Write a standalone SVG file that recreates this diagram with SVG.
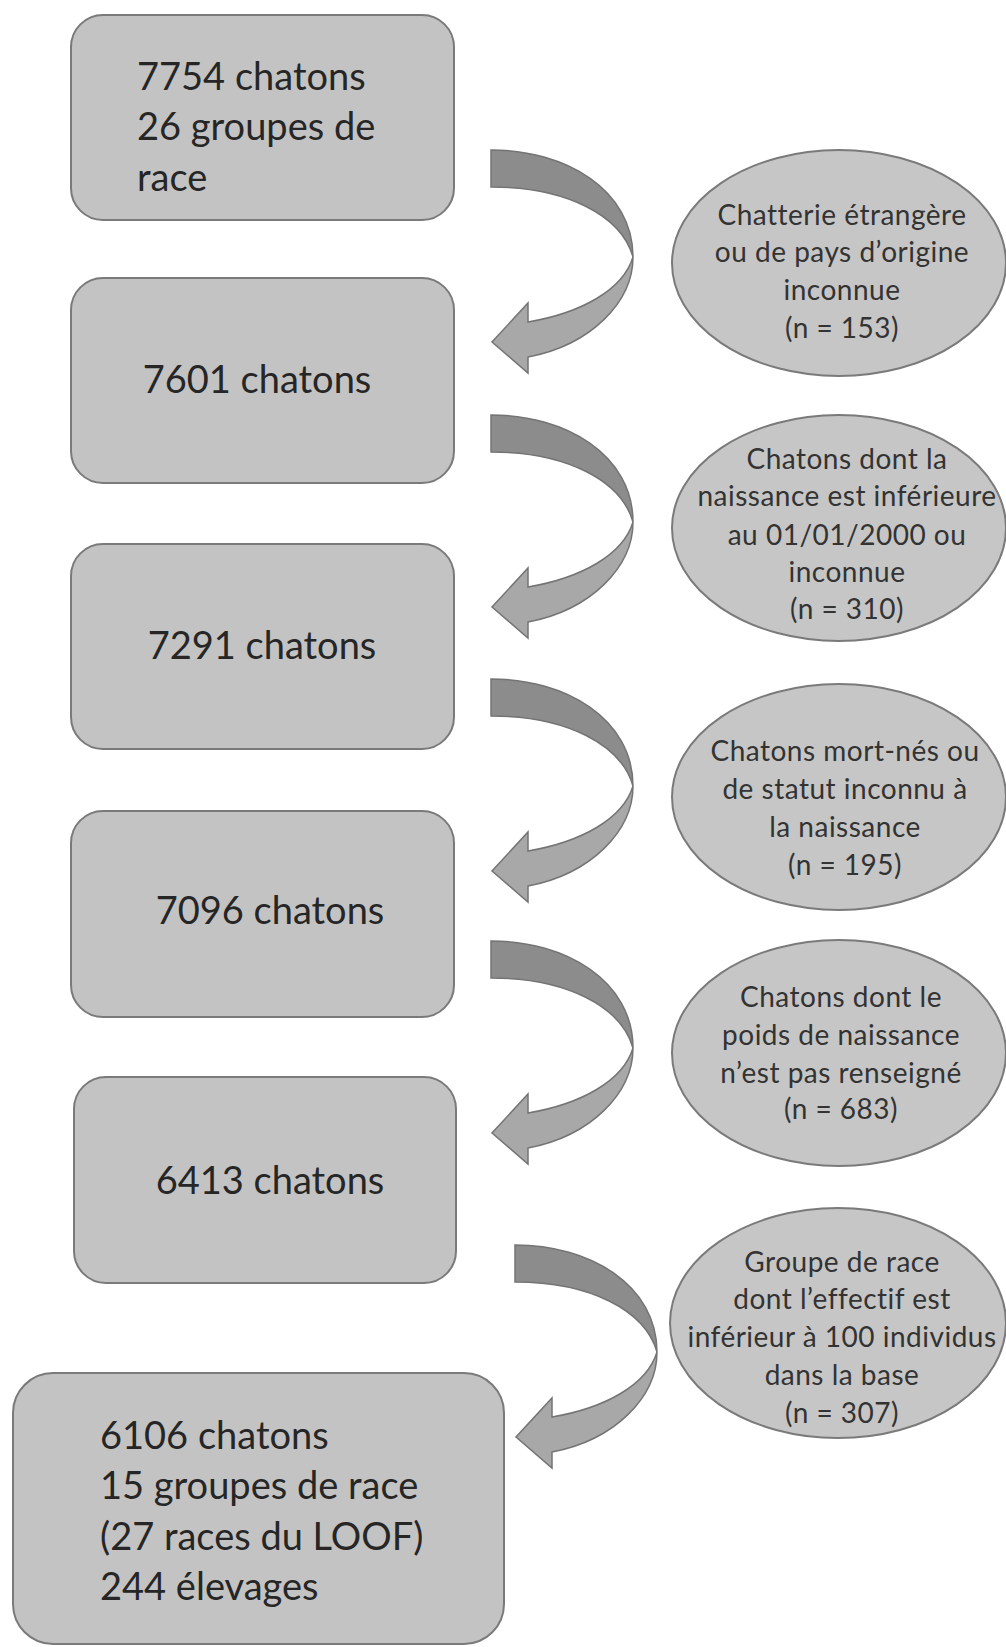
<svg xmlns="http://www.w3.org/2000/svg" xmlns:xlink="http://www.w3.org/1999/xlink" width="1006" height="1647" viewBox="0 0 1006 1647">
<style>
.box{fill:#c3c3c3;stroke:#7a7a7a;stroke-width:2}
.ell{fill:#c6c6c6;stroke:#7a7a7a;stroke-width:2}
.bt{font-family:Lato,"Liberation Sans",sans-serif;font-size:38px;fill:#262626}
.et{font-family:Lato,"Liberation Sans",sans-serif;font-size:28px;letter-spacing:0.5px;fill:#333333;text-anchor:middle}
.dark{fill:#8c8c8c;stroke:#747474;stroke-width:1.5}
.light{fill:#a8a8a8;stroke:#747474;stroke-width:1.5}
</style>
<defs>
<g id="curvedArrow">
<path class="dark" d="M0,0 C75,0 142,40 142,107 C130,65 75,37 0,37 Z"/>
<path class="light" d="M142,107 C142,152 100,195 37,207 L37,223 L1,192 L37,153 L37,172 C90,163 132,140 142,107 Z"/>
</g>
</defs>
<rect width="1006" height="1647" fill="#ffffff"/>
<g id="connectors">
<use xlink:href="#curvedArrow" transform="translate(491,150)"/>
<use xlink:href="#curvedArrow" transform="translate(491,415)"/>
<use xlink:href="#curvedArrow" transform="translate(491,679)"/>
<use xlink:href="#curvedArrow" transform="translate(491,941)"/>
<use xlink:href="#curvedArrow" transform="translate(515,1245)"/>
</g>
<g id="box1">
<rect class="box" x="71" y="15" width="383" height="205" rx="32"/>
<text class="bt" x="137" y="90">7754 chatons</text>
<text class="bt" x="137" y="140">26 groupes de</text>
<text class="bt" x="137" y="191">race</text>
</g>
<g id="box2">
<rect class="box" x="71" y="278" width="383" height="205" rx="32"/>
<text class="bt" x="257" y="393" text-anchor="middle">7601 chatons</text>
</g>
<g id="box3">
<rect class="box" x="71" y="544" width="383" height="205" rx="32"/>
<text class="bt" x="262" y="659" text-anchor="middle">7291 chatons</text>
</g>
<g id="box4">
<rect class="box" x="71" y="811" width="383" height="206" rx="32"/>
<text class="bt" x="270" y="924" text-anchor="middle">7096 chatons</text>
</g>
<g id="box5">
<rect class="box" x="74" y="1077" width="382" height="206" rx="32"/>
<text class="bt" x="270" y="1194" text-anchor="middle">6413 chatons</text>
</g>
<g id="box6">
<rect class="box" x="13" y="1373" width="491" height="271" rx="40"/>
<text class="bt" x="100" y="1449">6106 chatons</text>
<text class="bt" x="100" y="1499">15 groupes de race</text>
<text class="bt" x="100" y="1550">(27 races du LOOF)</text>
<text class="bt" x="100" y="1600">244 élevages</text>
</g>
<g id="excl1">
<ellipse class="ell" cx="839" cy="263" rx="167" ry="113"/>
<text class="et" x="842" y="225">Chatterie étrangère</text>
<text class="et" x="842" y="262">ou de pays d’origine</text>
<text class="et" x="842" y="300">inconnue</text>
<text class="et" x="842" y="338">(n = 153)</text>
</g>
<g id="excl2">
<ellipse class="ell" cx="839" cy="528" rx="167" ry="113"/>
<text class="et" x="847" y="469">Chatons dont la</text>
<text class="et" x="847" y="506">naissance est inférieure</text>
<text class="et" x="847" y="545">au 01/01/2000 ou</text>
<text class="et" x="847" y="582">inconnue</text>
<text class="et" x="847" y="619">(n = 310)</text>
</g>
<g id="excl3">
<ellipse class="ell" cx="839" cy="797" rx="167" ry="113"/>
<text class="et" x="845" y="761">Chatons mort-nés ou</text>
<text class="et" x="845" y="799">de statut inconnu à</text>
<text class="et" x="845" y="837">la naissance</text>
<text class="et" x="845" y="875">(n = 195)</text>
</g>
<g id="excl4">
<ellipse class="ell" cx="839" cy="1053" rx="167" ry="113"/>
<text class="et" x="841" y="1007">Chatons dont le</text>
<text class="et" x="841" y="1045">poids de naissance</text>
<text class="et" x="841" y="1083">n’est pas renseigné</text>
<text class="et" x="841" y="1119">(n = 683)</text>
</g>
<g id="excl5">
<ellipse class="ell" cx="838" cy="1323" rx="168" ry="115"/>
<text class="et" x="842" y="1272">Groupe de race</text>
<text class="et" x="842" y="1309">dont l’effectif est</text>
<text class="et" x="842" y="1347">inférieur à 100 individus</text>
<text class="et" x="842" y="1385">dans la base</text>
<text class="et" x="842" y="1423">(n = 307)</text>
</g>
</svg>
